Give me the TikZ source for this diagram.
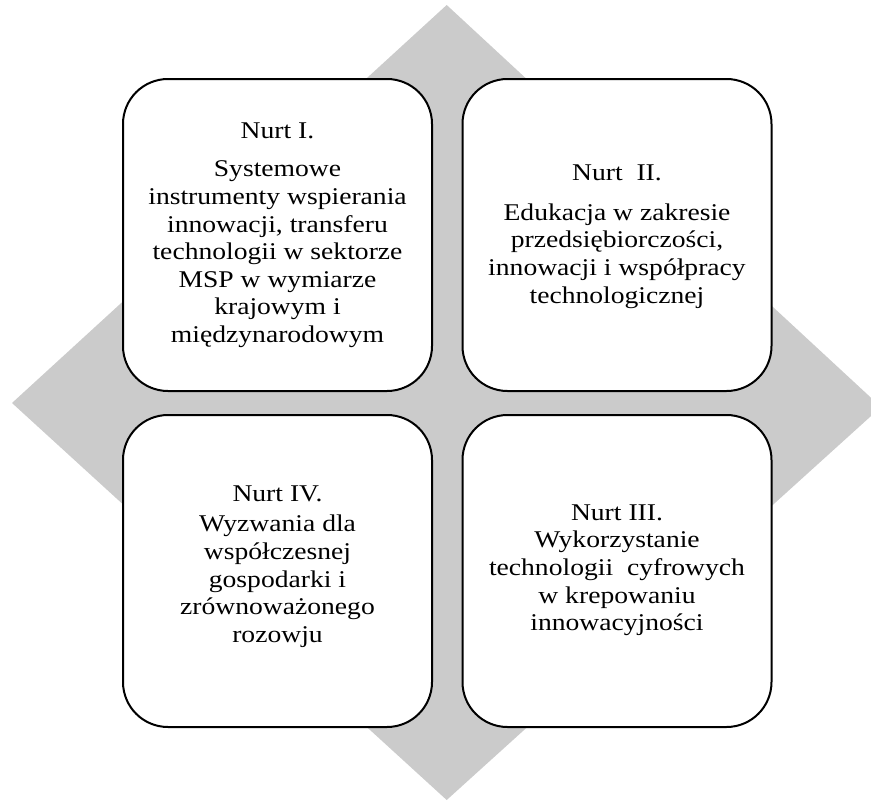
\documentclass[tikz,border=0pt]{standalone}
\usepackage{fontspec}
\setmainfont{Liberation Serif}[FakeStretch=1.15]
\begin{document}
\begin{tikzpicture}[x=1pt,y=-1pt,
  box/.style={draw=black, line width=2pt, fill=white, rounded corners=45pt,
    minimum width=309pt, minimum height=312pt, inner sep=0pt},
  txt/.style={align=center, inner sep=0pt, anchor=north,
    font=\fontsize{24}{27.6}\selectfont}]
\useasboundingbox (0,0) rectangle (871,801);
\begin{scope}
\clip (0,0) rectangle (871,801);
\fill[fill={rgb,255:red,203;green,203;blue,203}] (446.7,5) -- (881,407) -- (446.7,800) -- (12,403) -- cycle;
\end{scope}
\node[box] (b1) at (277.5,235) {};
\node[box] (b2) at (617,235) {};
\node[box] (b4) at (277.5,571) {};
\node[box] (b3) at (617,571) {};
\node[txt] (t1) at (277.5,118.3) {\rule{0pt}{20pt}Nurt I.\\[10.8pt] Systemowe\\ instrumenty wspierania\\ innowacji, transferu\\ technologii w sektorze\\ MSP w wymiarze\\ krajowym i\\ międzynarodowym};
\node[txt] (t2) at (617,160) {\rule{0pt}{20pt}Nurt\ \ II.\\[12.4pt] Edukacja w zakresie\\ przedsiębiorczości,\\ innowacji i współpracy\\ technologicznej};
\node[txt] (t4) at (277.5,481.7) {\rule{0pt}{20pt}Nurt IV.\\[2.4pt] Wyzwania dla\\ współczesnej\\ gospodarki i\\ zrównoważonego\\ rozowju};
\node[txt] (t3) at (617,500) {\rule{0pt}{20pt}Nurt III.\\ Wykorzystanie\\ technologii\ \ cyfrowych\\ w krepowaniu\\ innowacyjności};
\end{tikzpicture}
\end{document}
